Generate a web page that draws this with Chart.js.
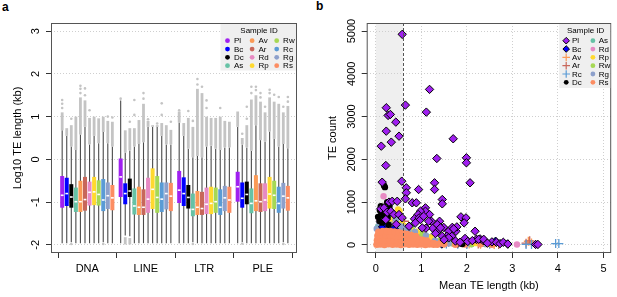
<!DOCTYPE html>
<html>
<head>
<meta charset="utf-8">
<script src="https://cdn.jsdelivr.net/npm/chart.js@4.4.1/dist/chart.umd.min.js"></script>
<style>
  body { margin: 0; background: #fff; width: 617px; height: 297px; overflow: hidden; position: relative; font-family: 'Liberation Sans', Arial, sans-serif; }
  canvas { position: absolute; top: 0; }
  #chartA { left: 0; }
  #chartB { left: 305px; }
  .panel { position: absolute; font-weight: bold; font-size: 12px; line-height: 12px; }
</style>
</head>
<body>
<div class="panel" style="left:2px;top:1px">a</div>
<div class="panel" style="left:316px;top:0px">b</div>
<canvas id="chartA" width="305" height="297"></canvas>
<canvas id="chartB" width="312" height="297"></canvas>
<script>
Chart.defaults.font.family = "'Liberation Sans', Arial, sans-serif";
Chart.defaults.color = '#000';

const samples = ['Pl', 'Bc', 'Dc', 'As', 'Av', 'Ar', 'Rd', 'Rp', 'Rw', 'Rc', 'Rg', 'Rs'];
const sampleColors = ['#a020f0', '#0000ff', '#000000', '#66c2a5', '#fb9a56', '#c8675a',
                      '#e78ac3', '#ffd92f', '#a6d854', '#5a9bd5', '#8da0cb', '#fc8d62'];
const teClasses = ['DNA', 'LINE', 'LTR', 'PLE'];

// Panel a: log10 TE length, one row of 12 samples per TE class
const boxQ3 = [
  -0.39, -0.43, -0.58, -0.66, -0.50, -0.41, -0.52, -0.41, -0.49, -0.46, -0.54, -0.60,
   0.02, -0.56, -0.45, -0.68, -0.64, -0.70, -0.43, -0.21, -0.39, -0.54, -0.54, -0.55,
  -0.27, -0.42, -0.60, -0.80, -0.74, -0.76, -0.66, -0.64, -0.66, -0.70, -0.62, -0.64,
  -0.29, -0.54, -0.52, -0.68, -0.37, -0.56, -0.56, -0.41, -0.50, -0.64, -0.55, -0.62
];
const boxQ1 = [
  -1.13, -1.09, -1.13, -1.23, -1.23, -1.20, -1.08, -1.07, -1.08, -1.21, -1.16, -1.19,
  -0.88, -1.05, -0.88, -1.29, -1.30, -1.30, -1.25, -1.16, -1.25, -1.23, -1.17, -1.21,
  -1.02, -1.09, -1.15, -1.33, -1.30, -1.30, -1.28, -1.28, -1.25, -1.30, -1.21, -1.25,
  -0.99, -1.13, -1.05, -1.26, -1.21, -1.23, -1.21, -1.15, -1.16, -1.25, -1.15, -1.20
];
const boxMedian = [
  -0.84, -0.80, -0.88, -0.99, -0.99, -0.94, -0.77, -0.76, -0.82, -0.95, -0.85, -0.90,
  -0.41, -0.80, -0.74, -1.09, -1.12, -1.12, -0.93, -0.70, -0.89, -0.93, -0.80, -0.86,
  -0.72, -0.80, -0.89, -1.17, -1.12, -1.15, -1.05, -1.03, -0.99, -1.12, -0.90, -0.95,
  -0.64, -0.91, -0.82, -1.03, -0.97, -0.99, -0.95, -0.81, -0.84, -1.03, -0.86, -0.90
];
const whiskerHi = [
  0.68, 0.55, 0.30, 0.22, 0.58, 0.76, 0.35, 0.55, 0.38, 0.64, 0.38, 0.30,
  1.38, 0.16, 0.21, 0.30, 0.36, 0.40, 0.76, 0.76, 0.76, 0.55, 0.35, 0.35,
  0.86, 0.55, 0.25, 0.05, 0.08, 0.05, 0.30, 0.32, 0.25, 0.22, 0.28, 0.28,
  0.76, 0.35, 0.28, 0.20, 0.80, 0.45, 0.42, 0.65, 0.48, 0.30, 0.36, 0.26
];
const whiskerLo = [
  -1.96, -1.96, -1.94, -1.96, -1.96, -1.96, -1.96, -1.96, -1.96, -1.94, -1.96, -1.96,
  -1.96, -1.78, -1.80, -1.96, -1.96, -1.96, -1.96, -1.96, -1.96, -1.96, -1.96, -1.96,
  -1.96, -1.96, -1.96, -1.94, -1.96, -1.96, -1.96, -1.96, -1.96, -1.96, -1.96, -1.96,
  -1.96, -1.93, -1.96, -1.96, -1.96, -1.96, -1.96, -1.96, -1.96, -1.96, -1.94, -1.96
];
// top of the dense band of outliers above each upper whisker
const outlierTop = [
  1.10, 0.73, 0.80, 1.00, 1.45, 1.38, 0.97, 1.00, 0.96, 1.00, 0.90, 0.88,
  1.38, 0.68, 0.73, 0.73, 0.92, 1.30, 0.90, 0.80, 0.80, 0.85, 0.80, 0.69,
  1.12, 0.85, 0.97, 0.76, 1.65, 1.55, 1.00, 0.97, 0.97, 1.00, 0.90, 0.88,
  1.12, 0.50, 0.80, 1.40, 1.50, 1.35, 1.10, 1.45, 1.35, 1.30, 1.10, 1.25
];
// bands of short outliers under the lower whisker: [box, from, to]
const lowOutlierBands = [[13, -1.82, -1.99], [14, -1.84, -1.99]];
// isolated outliers: [box, value]
const sparseOutliers = [
  [0, 1.20], [0, 1.30], [0, 1.39], [2, 0.95], [4, 1.55], [4, 1.65], [4, 1.72], [5, 1.50], [5, 1.66],
  [6, 1.15], [10, 1.00], [11, 0.98], [2, -1.98], [9, -1.98],
  [12, 1.42], [14, 0.88], [15, 1.04], [15, 1.39], [17, 1.42], [17, 1.55], [18, 0.94], [20, 0.84],
  [21, 1.04], [21, 1.31], [23, 0.88],
  [24, 1.15], [26, 1.13], [27, 0.90], [28, 1.75], [28, 1.88], [29, 1.70], [30, 1.20], [30, 1.38],
  [33, 1.20], [27, -1.98],
  [37, 0.60], [38, 0.95], [38, 1.23], [39, 1.55], [39, 1.70], [40, 1.62], [40, 1.70], [41, 1.45],
  [41, 1.55], [42, 1.23], [43, 1.55], [43, 1.63], [44, 1.51], [45, 1.46], [46, 1.23], [47, 1.35],
  [47, 1.46], [37, -1.97], [46, -1.98]
];
const yTicksA = [-2, -1, 0, 1, 2, 3];

// Panel b: [mean TE length (kb), TE count] per sample
const ptsPl = [
  [0.58, 4925], [1.18, 3637], [0.65, 3270], [0.23, 3208], [1.11, 3105], [0.27, 3028], [0.32, 3051],
  [0.44, 2871], [0.23, 2660], [0.51, 2543], [1.70, 2482], [0.34, 2403], [0.12, 2309], [0.22, 1857],
  [1.34, 2021], [1.99, 2037], [1.99, 1920], [2.07, 1452], [0.14, 1466], [0.57, 1490], [0.67, 1335],
  [0.67, 1218], [0.94, 1295], [1.29, 1452], [1.29, 1295], [1.46, 1061], [1.46, 960], [0.80, 984],
  [0.89, 984], [0.65, 1077], [1.09, 866], [1.09, 787], [0.98, 787], [0.93, 710], [0.85, 609],
  [1.18, 710], [1.40, 553], [1.22, 553], [1.87, 656], [1.98, 632], [1.94, 515], [2.18, 319],
  [1.76, 319], [1.49, 410], [1.60, 320], [1.68, 410], [1.25, 390], [1.36, 320], [1.10, 390],
  [1.56, 200], [1.67, 200], [1.96, 150], [2.02, 80], [2.21, 130], [2.29, 140], [2.36, 100],
  [2.55, 70], [2.65, 60], [2.73, 30], [2.80, 60], [3.51, 10], [3.56, 10],
  [0.29, 1000], [0.36, 1020], [0.47, 1020], [0.11, 843], [0.18, 866], [0.25, 763], [0.33, 787],
  [0.40, 710], [0.51, 710], [0.58, 632], [0.22, 592], [0.95, 632], [0.98, 592],
  [1.05, 670], [1.16, 553], [1.35, 475], [1.42, 398], [1.78, 421], [1.71, 374], [1.31, 265],
  [1.46, 201], [1.60, 164], [2.12, 100], [2.26, 130], [2.37, 130], [0.73, 435], [0.87, 515],
  [1.02, 398], [0.45, 480], [1.50, 120], [1.75, 90], [1.85, 60], [2.45, 40], [2.90, 20]
];
const ptsBc = [[0.15, 420], [0.25, 470], [0.40, 380], [2.63, 84], [2.90, 20], [1.80, 40], [1.45, 20]];
const ptsDc = [
  [0.18, 1390], [0.20, 1350], [0.11, 904], [0.09, 810], [0.22, 787], [0.18, 670],
  [0.26, 640], [0.12, 760], [0.05, 656], [0.08, 560], [0.14, 520], [0.28, 470],
  [0.30, 900], [0.25, 1000], [1.90, 20]
];
const ptsAs = [[0.82, 475], [0.05, 420], [0.10, 380], [0.40, 400], [0.60, 330], [1.00, 200],
  [1.50, 30], [2.10, 20], [0.30, 430]];
const ptsAv = [[0.60, 380], [0.90, 280], [1.20, 150], [1.50, 40], [1.80, 30], [2.05, 20], [2.30, 15],
  [2.60, 10], [3.35, 85], [3.42, 45], [1.00, 60]];
const ptsAr = [[0.63, 553], [0.75, 420], [1.00, 300], [1.30, 120], [1.60, 60], [2.00, 30], [2.25, 20],
  [3.38, 95], [3.30, 40], [2.70, 10]];
const ptsRd = [[0.17, 1138], [0.07, 592], [0.12, 700], [0.25, 650], [0.35, 520], [0.50, 420],
  [0.70, 330], [1.10, 160], [1.70, 30], [3.10, 10]];
const ptsRp = [[0.49, 827], [0.52, 790], [0.36, 720], [0.43, 650], [0.30, 610], [0.56, 500],
  [0.62, 440], [0.75, 380], [0.90, 300], [1.20, 170], [1.50, 60], [2.20, 40], [2.60, 20],
  [2.45, 20], [1.90, 30]];
const ptsRw = [[0.20, 680], [0.30, 560], [0.46, 470], [0.62, 410], [0.80, 350], [1.00, 260],
  [1.40, 100], [1.90, 50], [2.40, 20], [0.90, 220], [1.70, 30], [2.10, 15], [1.15, 180]];
const ptsRc = [[0.42, 600], [0.50, 470], [0.68, 380], [0.98, 230], [1.30, 80], [1.55, 20],
  [2.00, 10], [2.50, 15], [3.30, 10], [3.42, 10], [3.95, 30], [4.02, 30], [1.80, 15]];
const ptsRg = [[0.44, 609], [0.28, 700], [0.36, 745], [0.15, 600], [0.08, 520], [0.30, 470],
  [0.52, 450], [0.65, 400], [0.57, 420], [0.86, 300], [0.02, 380], [1.30, 100],
  [1.60, 35], [2.00, 25], [2.85, 47], [2.40, 20], [0.20, 450], [0.72, 360], [1.10, 220]];
const ptsRs = [
  [0.02, 10], [0.10, 15], [0.19, 5], [0.28, 20], [0.37, 10], [0.46, 15], [0.55, 5], [0.64, 20],
  [0.73, 10], [0.82, 12], [0.91, 8], [1.00, 15], [1.09, 5], [1.18, 12], [1.27, 6], [1.35, 10],
  [0.03, 110], [0.12, 120], [0.21, 105], [0.30, 118], [0.39, 112], [0.48, 108], [0.57, 100],
  [0.66, 96], [0.75, 90], [0.84, 85], [0.93, 80], [1.02, 70], [1.11, 60], [1.20, 45], [1.28, 35],
  [0.04, 215], [0.13, 225], [0.22, 230], [0.31, 222], [0.40, 215], [0.49, 205], [0.58, 195],
  [0.67, 185], [0.76, 170], [0.85, 150], [0.94, 130], [1.03, 115], [1.12, 95],
  [0.06, 300], [0.15, 320], [0.24, 325], [0.33, 315], [0.42, 305], [0.51, 290], [0.60, 270],
  [0.69, 250], [0.78, 225], [0.88, 200],
  [1.50, 20], [1.75, 10], [2.12, 84], [2.30, 20], [1.42, 40], [1.95, 15], [2.55, 10]
];
const xTicksB = [0, 1, 2, 3, 4, 5];
const yTicksB = [0, 1000, 2000, 3000, 4000, 5000];
const shortTeCutoff = 0.6;

// topmost series first
const seriesB = [['Pl', ptsPl], ['Dc', ptsDc], ['Rs', ptsRs], ['Bc', ptsBc], ['Rg', ptsRg],
  ['Rp', ptsRp], ['Rw', ptsRw], ['Rc', ptsRc], ['Rd', ptsRd], ['As', ptsAs], ['Ar', ptsAr], ['Av', ptsAv]];
const legendOrderB = ['Pl', 'Bc', 'Av', 'Ar', 'Rc', 'Dc', 'As', 'Rd', 'Rp', 'Rw', 'Rg', 'Rs'];
const markerB = { Pl: 'rectRot', Bc: 'rectRot', Av: 'cross', Ar: 'cross', Rc: 'cross' };

const FONT = "'Liberation Sans', Arial, sans-serif";
const colorOf = name => sampleColors[samples.indexOf(name)];

function drawMarker(ctx, style, color, x, y) {
  ctx.save();
  if (style === 'rectRot') {
    const r = 3.3;
    ctx.beginPath();
    ctx.moveTo(x, y - r); ctx.lineTo(x + r, y); ctx.lineTo(x, y + r); ctx.lineTo(x - r, y);
    ctx.closePath();
    ctx.fillStyle = color; ctx.fill();
    ctx.strokeStyle = '#000'; ctx.lineWidth = 1; ctx.stroke();
  } else if (style === 'cross') {
    const r = 3.8;
    ctx.beginPath();
    ctx.moveTo(x - r, y); ctx.lineTo(x + r, y); ctx.moveTo(x, y - r); ctx.lineTo(x, y + r);
    ctx.strokeStyle = color; ctx.lineWidth = 1.2; ctx.stroke();
  } else {
    ctx.beginPath();
    ctx.arc(x, y, 2.4, 0, Math.PI * 2);
    ctx.fillStyle = color; ctx.fill();
  }
  ctx.restore();
}

// R-style frame plus rotated y tick labels
const frameAndYLabels = {
  id: 'frameAndYLabels',
  afterDraw(chart) {
    const { ctx, chartArea: ca, scales: { y } } = chart;
    ctx.save();
    ctx.font = '11px ' + FONT;
    ctx.fillStyle = '#000';
    ctx.textAlign = 'center';
    ctx.textBaseline = 'middle';
    y.ticks.forEach(t => {
      ctx.save();
      ctx.translate(ca.left - 15, y.getPixelForValue(t.value));
      ctx.rotate(-Math.PI / 2);
      ctx.fillText(String(t.value), 0, 0);
      ctx.restore();
    });
    ctx.strokeStyle = '#555';
    ctx.lineWidth = 1;
    ctx.strokeRect(ca.left + 0.5, ca.top + 0.5, ca.right - ca.left - 1, ca.bottom - ca.top - 1);
    ctx.restore();
  }
};

function drawLegendBox(ctx, ca, w, h, titleX) {
  const x0 = ca.right - w - 1, y0 = ca.top + 1;
  ctx.fillStyle = '#efefef';
  ctx.fillRect(x0, y0, w, h);
  ctx.fillStyle = '#000';
  ctx.font = '8px ' + FONT;
  ctx.textAlign = 'center';
  ctx.textBaseline = 'middle';
  ctx.fillText('Sample ID', x0 + titleX, y0 + 7);
  ctx.textAlign = 'left';
  return [x0, y0];
}

const legendA = {
  id: 'legendA',
  afterDraw(chart) {
    const { ctx, chartArea: ca } = chart;
    ctx.save();
    const [x0, y0] = drawLegendBox(ctx, ca, 75.5, 46.5, 38.5);
    samples.forEach((s, k) => {
      const cx = x0 + 7 + Math.floor(k / 4) * 24.6;
      const cy = y0 + 16.7 + (k % 4) * 8.33;
      drawMarker(ctx, 'circle', sampleColors[k], cx, cy);
      ctx.fillStyle = '#000';
      ctx.fillText(s, cx + 6.4, cy + 0.5);
    });
    ctx.restore();
  }
};

const legendB = {
  id: 'legendB',
  afterDraw(chart) {
    const { ctx, chartArea: ca } = chart;
    ctx.save();
    const [x0, y0] = drawLegendBox(ctx, ca, 51, 64, 26.5);
    legendOrderB.forEach((s, k) => {
      const cx = x0 + 7 + Math.floor(k / 6) * 26.7;
      const cy = y0 + 16.7 + (k % 6) * 8.33;
      drawMarker(ctx, markerB[s] || 'circle', colorOf(s), cx, cy);
      ctx.fillStyle = '#000';
      ctx.fillText(s, cx + 5.8, cy + 0.5);
    });
    ctx.restore();
  }
};

// shaded short-TE zone and its cut-off line
const cutoffZone = {
  id: 'cutoffZone',
  beforeDraw(chart) {
    const { ctx, chartArea: ca, scales: { x } } = chart;
    const x1 = x.getPixelForValue(0), x2 = x.getPixelForValue(shortTeCutoff);
    ctx.save();
    ctx.fillStyle = '#efefef';
    ctx.fillRect(x1, ca.top, x2 - x1, ca.bottom - ca.top);
    ctx.restore();
  },
  afterDatasetsDraw(chart) {
    const { ctx, chartArea: ca, scales: { x } } = chart;
    const px = Math.round(x.getPixelForValue(shortTeCutoff)) + 0.5;
    ctx.save();
    ctx.strokeStyle = '#555';
    ctx.lineWidth = 1;
    ctx.setLineDash([3, 2]);
    ctx.beginPath();
    ctx.moveTo(px, ca.top);
    ctx.lineTo(px, ca.bottom);
    ctx.stroke();
    ctx.restore();
  }
};

// ---------- Panel a ----------
const boxIdx = boxQ1.map((_, i) => i);
const boxX = i => Math.floor(i / 12) + 0.5 + (i % 12 - 5.5) * 0.078;
const barBase = { type: 'bar', grouped: false, barPercentage: 1, categoryPercentage: 1,
                  borderWidth: 0, inflateAmount: 0 };

new Chart(document.getElementById('chartA'), {
  type: 'bar',
  data: {
    datasets: [
      {
        type: 'scatter', label: 'median', order: 0,
        data: boxIdx.map(i => ({ x: boxX(i), y: boxMedian[i] })),
        pointStyle: 'line', pointRadius: 1.4, borderColor: '#fff', borderWidth: 1.6
      },
      {
        ...barBase, label: 'IQR', order: 1, maxBarThickness: 4,
        data: boxIdx.map(i => ({ x: boxX(i), y: [boxQ1[i], boxQ3[i]] })),
        backgroundColor: boxIdx.map(i => sampleColors[i % 12])
      },
      {
        type: 'scatter', label: 'outliers', order: 2,
        data: sparseOutliers.map(([i, v]) => ({ x: boxX(i), y: v })),
        pointRadius: 1.3, backgroundColor: '#c4c4c4', borderWidth: 0
      },
      {
        ...barBase, label: 'outlier band', order: 2, maxBarThickness: 2.8,
        data: boxIdx.map(i => ({ x: boxX(i), y: [whiskerHi[i], outlierTop[i]] })),
        backgroundColor: '#c4c4c4'
      },
      {
        ...barBase, label: 'low outlier band', order: 2, maxBarThickness: 2.8,
        data: lowOutlierBands.map(([i, a, b]) => ({ x: boxX(i), y: [a, b] })),
        backgroundColor: '#c4c4c4'
      },
      {
        ...barBase, label: 'whisker', order: 3, maxBarThickness: 1.1,
        data: boxIdx.map(i => ({ x: boxX(i), y: [whiskerLo[i], whiskerHi[i]] })),
        backgroundColor: '#4a4a4a'
      }
    ]
  },
  options: {
    responsive: false,
    animation: false,
    layout: { padding: { left: 0, right: 8, top: 23, bottom: 0 } },
    plugins: { legend: { display: false }, tooltip: { enabled: false } },
    scales: {
      x: {
        type: 'linear', min: -0.12, max: 4.085, offset: false,
        afterBuildTicks: s => { s.ticks = teClasses.map((_, g) => ({ value: g + 0.5 })); },
        afterFit: s => { s.height = 44; },
        ticks: { autoSkip: false, maxRotation: 0, padding: 4, font: { size: 11 },
                 callback: v => teClasses[Math.round(v - 0.5)] },
        grid: { offset: true, drawOnChartArea: false, tickLength: 5, tickColor: '#333' },
        border: { display: false }
      },
      y: {
        type: 'linear', min: -2.19, max: 3.19,
        afterBuildTicks: s => { s.ticks = yTicksA.map(v => ({ value: v })); },
        afterFit: s => { s.width = 51; },
        ticks: { display: false },
        grid: { color: '#cfcfcf', tickLength: 5, tickColor: '#333', tickBorderDash: [] },
        border: { display: false, dash: [1, 2] },
        title: { display: true, text: 'Log10 TE length (kb)', font: { size: 11 }, padding: { top: 11 } }
      }
    }
  },
  plugins: [frameAndYLabels, legendA]
});

// ---------- Panel b ----------
new Chart(document.getElementById('chartB'), {
  type: 'scatter',
  data: {
    datasets: seriesB.map(([name, pts]) => {
      const style = markerB[name] || 'circle';
      const color = colorOf(name);
      return {
        label: name,
        data: pts.map(p => ({ x: p[0], y: p[1] })),
        pointStyle: style,
        pointRadius: style === 'rectRot' ? 4.2 : style === 'cross' ? 4.5 : (name === 'Rs' ? 3.5 : 3.2),
        backgroundColor: color,
        borderColor: style === 'rectRot' ? '#000' : color,
        borderWidth: style === 'circle' ? 0 : style === 'cross' ? 1.3 : 1
      };
    })
  },
  options: {
    responsive: false,
    animation: false,
    layout: { padding: { left: 0, right: 4, top: 23, bottom: 0 } },
    plugins: { legend: { display: false }, tooltip: { enabled: false } },
    scales: {
      x: {
        type: 'linear', min: -0.2, max: 5.17,
        afterBuildTicks: s => { s.ticks = xTicksB.map(v => ({ value: v })); },
        afterFit: s => { s.height = 44; },
        ticks: { autoSkip: false, maxRotation: 0, padding: 4, font: { size: 11 } },
        grid: { color: '#cfcfcf', tickLength: 5, tickColor: '#333', tickBorderDash: [] },
        border: { display: false, dash: [1, 2] },
        title: { display: true, text: 'Mean TE length (kb)', font: { size: 11 }, padding: { bottom: 4 } }
      },
      y: {
        type: 'linear', min: -190, max: 5190,
        afterBuildTicks: s => { s.ticks = yTicksB.map(v => ({ value: v })); },
        afterFit: s => { s.width = 61.7; },
        ticks: { display: false },
        grid: { color: '#cfcfcf', tickLength: 5, tickColor: '#333', tickBorderDash: [] },
        border: { display: false, dash: [1, 2] },
        title: { display: true, text: 'TE count', font: { size: 11 }, padding: { top: 21.5 } }
      }
    }
  },
  plugins: [cutoffZone, frameAndYLabels, legendB]
});
</script>
</body>
</html>
